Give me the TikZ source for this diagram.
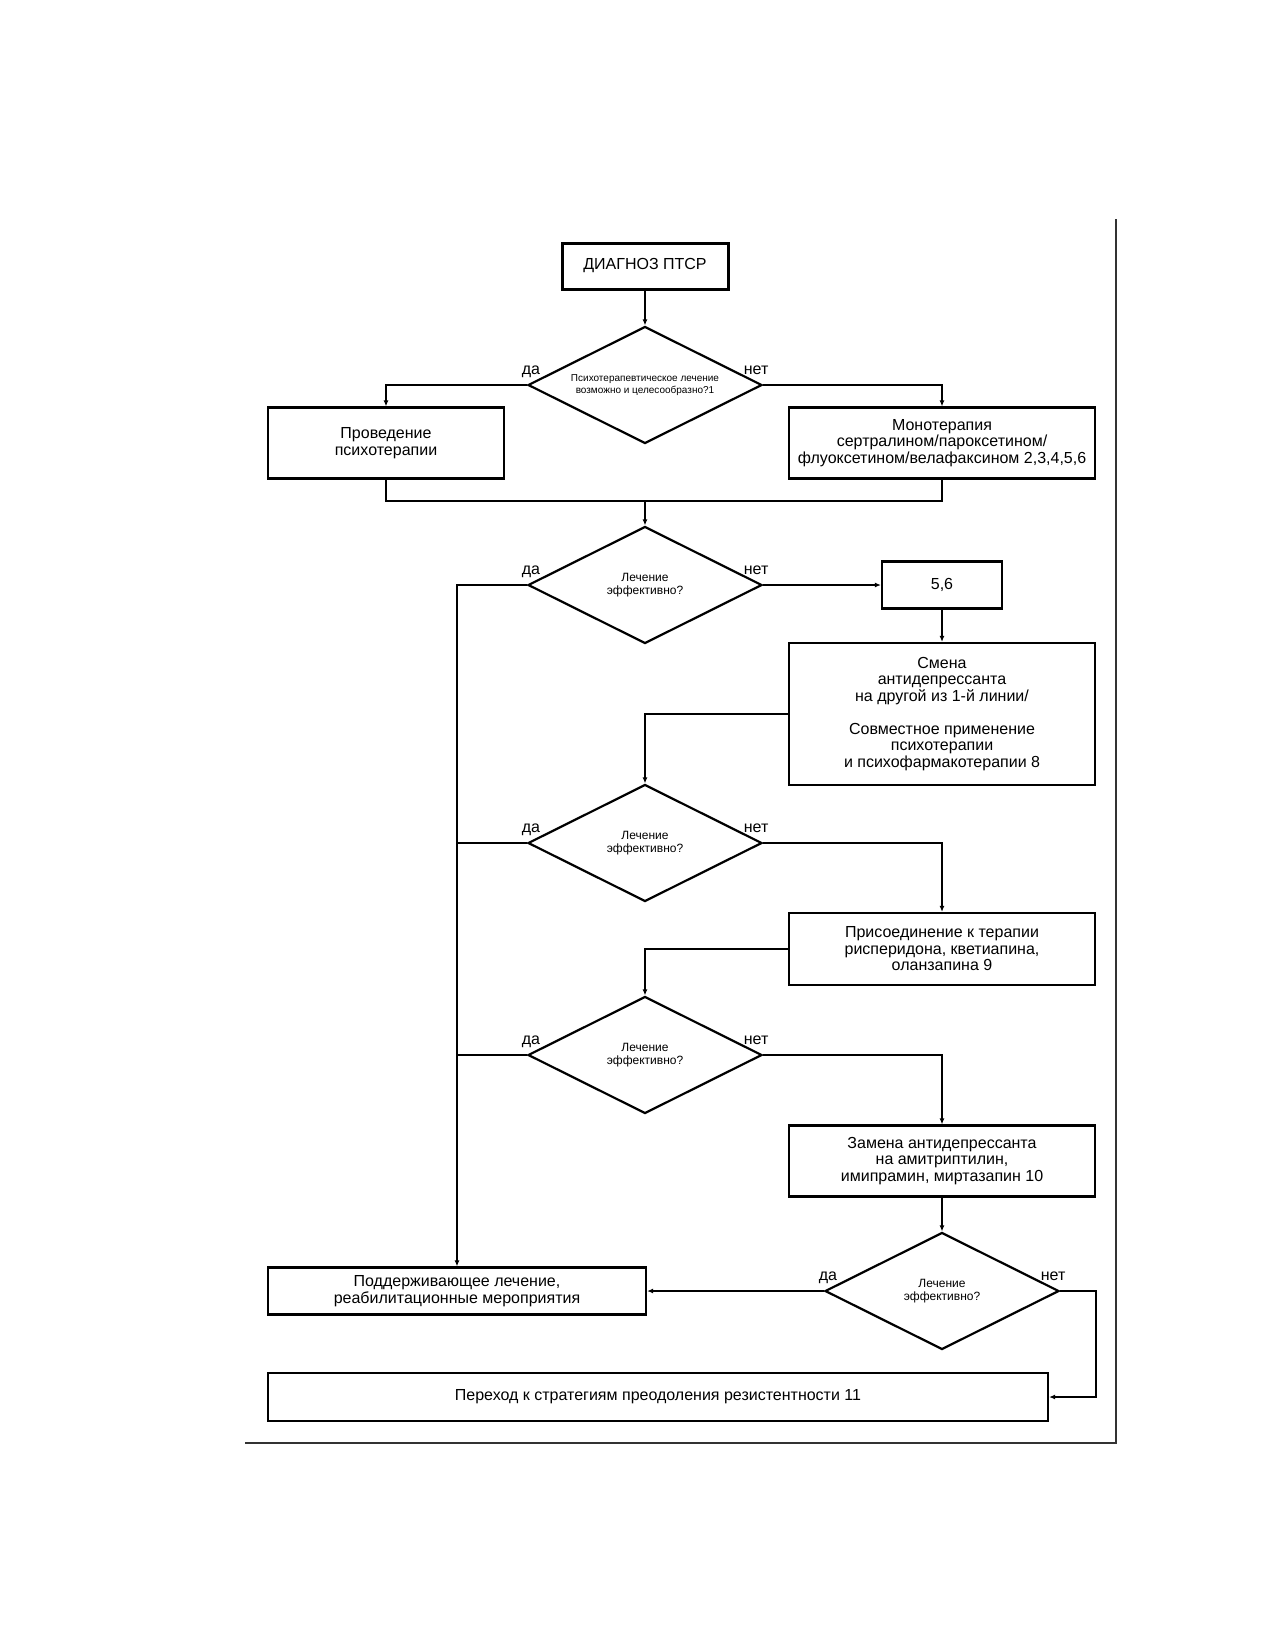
\documentclass[tikz,border=0pt]{standalone}
\usepackage{fontspec}
\setmainfont{Liberation Sans}
\usetikzlibrary{arrows, arrows.meta}
\usetikzlibrary{shapes.geometric}

\tikzset{
  box/.style = {rectangle, draw, line width=2.2pt, align=center, inner sep=0pt, font=\fontsize{16}{16.5}\selectfont},
  decision/.style = {diamond, aspect=2, draw, line width=2.2pt, align=center, inner sep=0pt, minimum width=234pt, minimum height=117pt, font=\fontsize{12}{12.5}\selectfont},
  answer/.style = {anchor=base, inner sep=0pt, font=\fontsize{16}{16}\selectfont},
  link/.style = {line width=1.8pt},
  arrow/.style = {link, -{Latex[length=6pt, width=5pt]}},
}

\begin{document}
\begin{tikzpicture}[x=1pt, y=-1pt]
      \useasboundingbox (0,0) rectangle (1275,1650);

      \node[box, line width=3pt, minimum width=166pt, minimum height=46pt] (diag) at (645,266) {ДИАГНОЗ ПТСР};
      \node[decision, font=\fontsize{10}{11.5}\selectfont] (q1) at (645,385) {Психотерапевтическое лечение\\возможно и целесообразно?1};
      \node[box, minimum width=236pt, minimum height=71pt] (psy) at (386,443) {Проведение\\психотерапии};
      \node[box, minimum width=306pt, minimum height=71pt] (mono) at (942,443) {Монотерапия\\сертралином/пароксетином/\\флуоксетином/велафаксином 2,3,4,5,6};
      \coordinate (join) at (645,501);

      \node[decision] (q2) at (645,585) {Лечение\\эффективно?};
      \node[box, minimum width=120pt, minimum height=47pt] (b56) at (942,585) {5,6};
      \node[box, minimum width=306pt, minimum height=142pt] (smena) at (942,714) {Смена\\антидепрессанта\\на другой из 1-й линии/\\[16.5pt]Совместное применение\\психотерапии\\и психофармакотерапии 8};

      \node[decision] (q3) at (645,843) {Лечение\\эффективно?};
      \node[box, minimum width=306pt, minimum height=72pt] (prisoed) at (942,949) {Присоединение к терапии\\рисперидона, кветиапина,\\оланзапина 9};

      \node[decision] (q4) at (645,1055) {Лечение\\эффективно?};
      \node[box, minimum width=306pt, minimum height=71pt] (zamena) at (942,1161) {Замена антидепрессанта\\на амитриптилин,\\имипрамин, миртазапин 10};

      \node[decision] (q5) at (942,1291) {Лечение\\эффективно?};
      \node[box, minimum width=378pt, minimum height=47pt] (podd) at (457,1291) {Поддерживающее лечение,\\реабилитационные мероприятия};
      \node[box, minimum width=780pt, minimum height=48pt] (perehod) at (658,1397) {Переход к стратегиям преодоления резистентности 11};

      \node[answer] (q1yes) at ([shift={(4,-11)}]q1.west) {да};
      \node[answer] (q1no) at ([shift={(-7,-11)}]q1.east) {нет};
      \node[answer] (q2yes) at ([shift={(4,-11)}]q2.west) {да};
      \node[answer] (q2no) at ([shift={(-7,-11)}]q2.east) {нет};
      \node[answer] (q3yes) at ([shift={(4,-11)}]q3.west) {да};
      \node[answer] (q3no) at ([shift={(-7,-11)}]q3.east) {нет};
      \node[answer] (q4yes) at ([shift={(4,-11)}]q4.west) {да};
      \node[answer] (q4no) at ([shift={(-7,-11)}]q4.east) {нет};
      \node[answer] (q5yes) at ([shift={(4,-11)}]q5.west) {да};
      \node[answer] (q5no) at ([shift={(-7,-11)}]q5.east) {нет};

      \draw[arrow] (diag) -- (q1);
      \draw[arrow] (q1.west) -| (psy.north);
      \draw[arrow] (q1.east) -| (mono.north);
      \draw[link] (psy.south) |- (join);
      \draw[link] (mono.south) |- (join);
      \draw[arrow] (join) -- (q2.north);
      \draw[arrow] (q2.east) -- (b56.west);
      \draw[arrow] (b56) -- (smena);
      \draw[arrow] (smena.west) -| (q3.north);
      \draw[arrow] (q3.east) -| (prisoed.north);
      \draw[arrow] (prisoed.west) -| (q4.north);
      \draw[arrow] (q4.east) -| (zamena.north);
      \draw[arrow] (zamena) -- (q5);
      \draw[arrow] (q5.west) -- (podd.east);
      \draw[arrow] (q2.west) -| (podd.north);
      \draw[link] (q3.west) -- (q3.west -| podd.north);
      \draw[link] (q4.west) -- (q4.west -| podd.north);
      \draw[arrow] (q5.east) -| (zamena.east |- perehod.east) -- (perehod.east);

      \draw[line width=1.5pt, black!80] (1116,219) -- (1116,1443) -- (245,1443);
\end{tikzpicture}
\end{document}
